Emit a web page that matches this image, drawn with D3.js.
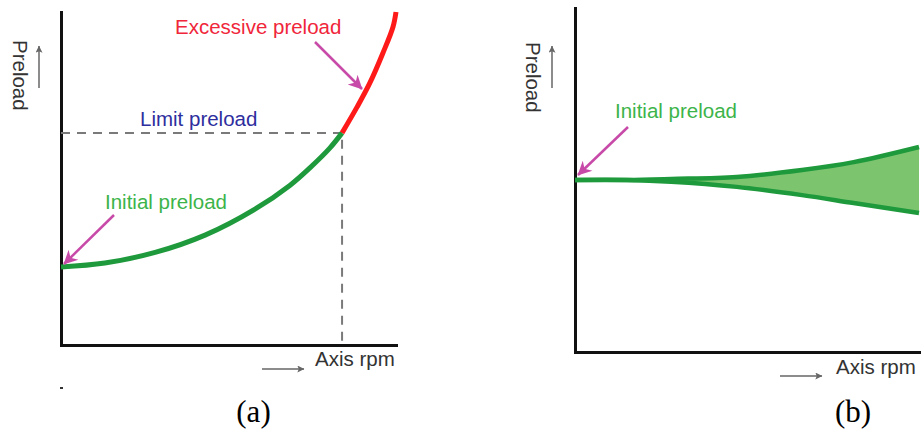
<!DOCTYPE html>
<html>
<head>
<meta charset="utf-8">
<script src="https://cdn.jsdelivr.net/npm/d3@7"></script>
<style>
  body { margin: 0; background: #fff; }
  text { font-family: "Liberation Sans", Arial, sans-serif; }
  .caption { font-family: "Liberation Serif", "Times New Roman", serif; }
</style>
</head>
<body>
<div id="chart"></div>
<script>
var width = 921;
    height = 432;

var svg = d3.select("#chart")
    .append("svg")
    .attr("width", width)
    .attr("height", height);

// Define data

// panel (a): preload rises with axis rpm
var rpmA = [0, 1.31, 2.81, 4.3, 5.79, 6.84, 7.43, 8.03, 8.39];
var preloadA = [2.34, 2.46, 2.78, 3.3, 4.08, 4.8, 5.32, 5.92, 6.37];
var rpmExcess = [8.39, 8.84, 9.22, 9.61, 9.91, 10];
var preloadExcess = [6.37, 7.15, 7.87, 8.77, 9.55, 10];
var limitRpm = 8.39;
var limitPreload = 6.37;
var labelsA = ["Excessive preload", "Limit preload", "Initial preload"];

// panel (b): preload spreads around the initial value
var rpmB = [0, 1.5, 2.8, 4.7, 6.6, 8.1, 10];
var upperB = [5.0, 5.0, 5.03, 5.09, 5.29, 5.52, 5.96];
var lowerB = [5.0, 5.0, 4.95, 4.8, 4.56, 4.33, 4.04];
var labelsB = ["Initial preload"];

var axisLabels = ["Preload", "Axis rpm"];
var captions = ["(a)", "(b)"];

var green = "#1e9a3c";
var lightGreen = "#7dc46f";
var magenta = "#c84aa8";

// Define scales

var xA = d3.scaleLinear().domain([0, 10]).range([61, 396]);
var yA = d3.scaleLinear().domain([0, 10]).range([345, 12]);
var xB = d3.scaleLinear().domain([0, 10]).range([575, 919]);
var yB = d3.scaleLinear().domain([0, 10]).range([352, 8]);

// Arrow heads

var defs = svg.append("defs");

defs.append("marker")
    .attr("id", "headMag")
    .attr("viewBox", "0 0 10 10")
    .attr("refX", 9.5)
    .attr("refY", 5)
    .attr("markerWidth", 17)
    .attr("markerHeight", 14)
    .attr("markerUnits", "userSpaceOnUse")
    .attr("orient", "auto")
    .append("path")
    .attr("d", "M0,0L10,5L0,10L3,5Z")
    .attr("fill", magenta);

defs.append("marker")
    .attr("id", "headGrey")
    .attr("viewBox", "0 0 10 10")
    .attr("refX", 9.5)
    .attr("refY", 5)
    .attr("markerWidth", 9)
    .attr("markerHeight", 7)
    .attr("markerUnits", "userSpaceOnUse")
    .attr("orient", "auto")
    .append("path")
    .attr("d", "M0,0L10,5L0,10L2,5Z")
    .attr("fill", "#666");

function arrow(x1, y1, x2, y2, head, color, w) {
  svg.append("line")
    .attr("x1", x1).attr("y1", y1)
    .attr("x2", x2).attr("y2", y2)
    .attr("stroke", color)
    .attr("stroke-width", w)
    .attr("marker-end", `url(#${head})`);
}

function label(txt, x, y, color) {
  svg.append("text")
    .attr("x", x)
    .attr("y", y)
    .attr("fill", color)
    .style("font-size", "20.5px")
    .text(txt);
}

// Draw axes

function drawAxes(x, y) {
  var xAxis = svg.append("g")
      .attr("transform", `translate(0, ${y.range()[0]})`)
      .call(d3.axisBottom(x).ticks(0).tickSizeOuter(0));
  var yAxis = svg.append("g")
      .attr("transform", `translate(${x.range()[0]}, 0)`)
      .call(d3.axisLeft(y).ticks(0).tickSizeOuter(0));
  svg.selectAll(".domain")
      .attr("stroke", "#111")
      .attr("stroke-width", 3)
      .attr("stroke-linecap", "square");
}

drawAxes(xA, yA);
drawAxes(xB, yB);

// Draw panel (a)

var lineA = d3.line()
    .x(function(d) { return xA(d[0]); })
    .y(function(d) { return yA(d[1]); })
    .curve(d3.curveCatmullRom.alpha(0.5));

// dashed limit lines
svg.append("path")
    .attr("d", `M${xA(0)},${yA(limitPreload)}H${xA(limitRpm)}V${yA(0)}`)
    .attr("fill", "none")
    .attr("stroke", "#7a7a7a")
    .attr("stroke-width", 2)
    .attr("stroke-dasharray", "9,7");

svg.append("path")
    .attr("d", lineA(d3.zip(rpmA, preloadA)))
    .attr("fill", "none")
    .attr("stroke", green)
    .attr("stroke-width", 5);

svg.append("path")
    .attr("d", lineA(d3.zip(rpmExcess, preloadExcess)))
    .attr("fill", "none")
    .attr("stroke", "#ff1a1a")
    .attr("stroke-width", 5);

label(labelsA[0], 175, 34, "#f0263a");
label(labelsA[1], 140, 126, "#2e2e9e");
label(labelsA[2], 105, 209, "#3cb44a");

arrow(315, 42, 362, 89, "headMag", magenta, 2.5);
arrow(114, 215, 64, 264, "headMag", magenta, 2.5);

// Draw panel (b)

var dataB = rpmB.map(function(r, i) {
  return {rpm: r, upper: upperB[i], lower: lowerB[i]};
});

var areaB = d3.area()
    .x(function(d) { return xB(d.rpm); })
    .y0(function(d) { return yB(d.lower); })
    .y1(function(d) { return yB(d.upper); })
    .curve(d3.curveCatmullRom.alpha(0.5));

svg.append("path")
    .datum(dataB)
    .attr("d", areaB)
    .attr("fill", lightGreen);

svg.append("path")
    .datum(dataB)
    .attr("d", areaB.lineY1())
    .attr("fill", "none")
    .attr("stroke", green)
    .attr("stroke-width", 4.5);

svg.append("path")
    .datum(dataB)
    .attr("d", areaB.lineY0())
    .attr("fill", "none")
    .attr("stroke", green)
    .attr("stroke-width", 4.5);

label(labelsB[0], 615, 118, "#3cb44a");
arrow(628, 127, 578, 175, "headMag", magenta, 2.5);

// Axis labels

[[13, 40, 39], [526, 42, 552]].forEach(function(p) {
  svg.append("text")
    .attr("transform", `translate(${p[0]}, ${p[1]}) rotate(90)`)
    .attr("fill", "#333")
    .style("font-size", "20.5px")
    .text(axisLabels[0]);
  arrow(p[2], 88, p[2], 46, "headGrey", "#666", 1.5);
});

[[315, 366, 262, 369], [836, 374, 780, 376]].forEach(function(p) {
  svg.append("text")
    .attr("x", p[0])
    .attr("y", p[1])
    .attr("fill", "#333")
    .style("font-size", "20.5px")
    .text(axisLabels[1]);
  arrow(p[2], p[3], p[2] + 42, p[3], "headGrey", "#666", 1.5);
});

// stray mark under panel (a)
svg.append("rect")
    .attr("x", 60).attr("y", 387)
    .attr("width", 3).attr("height", 2)
    .attr("fill", "#333");

// Captions

svg.selectAll(".caption")
    .data(captions)
    .enter().append("text")
    .attr("class", "caption")
    .attr("x", function(d, i) { return i === 0 ? 253.5 : 853; })
    .attr("y", 422)
    .attr("text-anchor", "middle")
    .style("font-size", "31px")
    .text(function(d) { return d; });
</script>
</body>
</html>
